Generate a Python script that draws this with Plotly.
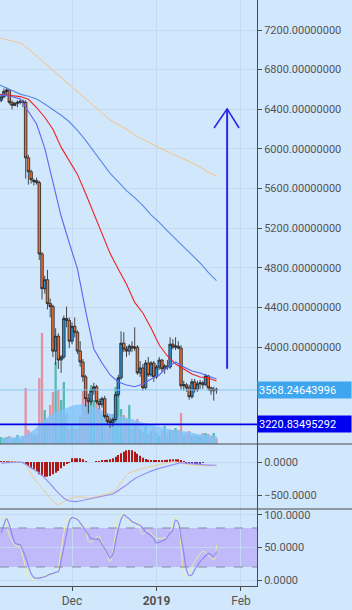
import plotly.graph_objects as go
import pandas as pd

# ---------------- data ----------------
dates = pd.date_range("2018-11-05", "2019-01-23", freq="D")

opens = [6490, 6525, 6580, 6595, 6470, 6440, 6460, 6470, 6480, 6470,
         5910, 5770, 5670, 5680, 5660, 4940, 4590, 4680, 4440, 4410,
         3960, 4110, 3870, 3900, 4290, 4270, 4060, 4210, 4150, 3960,
         3850, 3700, 3480, 3450, 3560, 3600, 3450, 3420, 3480, 3300,
         3250, 3240, 3270, 3520, 3690, 4040, 3980, 3960, 4010, 3990,
         4000, 3740, 3790, 3590, 3840, 3720, 3840, 3700, 3800, 3870,
         3780, 3810, 3800, 4030, 4000, 4010, 3990, 3610, 3620, 3590,
         3500, 3650, 3570, 3630, 3640, 3620, 3710, 3590, 3560, 3575]
highs = [6545, 6610, 6620, 6600, 6490, 6475, 6490, 6510, 6500, 6490,
         5940, 5790, 5700, 5710, 5680, 4960, 4720, 4780, 4490, 4430,
         4190, 4140, 3920, 4320, 4410, 4300, 4250, 4300, 4170, 4060,
         3880, 3720, 3530, 3580, 3640, 3620, 3480, 3500, 3510, 3320,
         3280, 3290, 3550, 3720, 4160, 4150, 4010, 4030, 4060, 4200,
         4020, 3860, 3830, 3870, 3900, 3860, 3860, 3820, 3900, 3880,
         3830, 3870, 4100, 4080, 4100, 4060, 4020, 3660, 3640, 3620,
         3680, 3680, 3660, 3670, 3660, 3730, 3720, 3600, 3600, 3590]
lows = [6470, 6510, 6540, 6450, 6400, 6430, 6420, 6450, 6420, 5700,
        5640, 5650, 5630, 5640, 4880, 4480, 4540, 4380, 4300, 3900,
        3820, 3780, 3740, 3880, 4200, 3990, 4030, 4100, 3930, 3800,
        3650, 3400, 3330, 3420, 3520, 3430, 3380, 3390, 3280, 3220,
        3185, 3200, 3250, 3500, 3670, 3950, 3900, 3920, 3950, 3960,
        3720, 3700, 3560, 3570, 3700, 3700, 3650, 3680, 3770, 3750,
        3730, 3770, 3780, 3980, 3970, 3980, 3570, 3560, 3550, 3470,
        3480, 3540, 3550, 3580, 3580, 3610, 3560, 3520, 3460, 3530]
closes = [6525, 6580, 6595, 6470, 6440, 6460, 6470, 6480, 6470, 5910,
          5770, 5690, 5680, 5660, 4940, 4590, 4680, 4440, 4410, 3960,
          4110, 3870, 3900, 4290, 4270, 4060, 4210, 4150, 3960, 3850,
          3700, 3480, 3450, 3560, 3600, 3450, 3420, 3480, 3300, 3250,
          3240, 3270, 3520, 3690, 4040, 3980, 3960, 4010, 3990, 4000,
          3740, 3790, 3590, 3840, 3720, 3840, 3700, 3800, 3870, 3780,
          3810, 3800, 4030, 4000, 4010, 3990, 3610, 3620, 3590, 3500,
          3650, 3570, 3630, 3640, 3620, 3710, 3590, 3560, 3575, 3568.25]

volumes = [7, 6, 7, 8, 6, 5, 9, 5, 7, 56,
           14, 11, 9, 10, 66, 111, 34, 25, 39, 52,
           82, 54, 44, 62, 30, 15, 20, 15, 15, 27,
           53, 67, 44, 59, 44, 47, 36, 29, 26, 30,
           30, 30, 57, 51, 35, 29, 25, 39, 15, 20,
           25, 15, 12, 18, 10, 13, 16, 11, 8, 13,
           18, 11, 14, 14, 16, 14, 31, 8, 11, 13,
           8, 10, 8, 8, 11, 11, 10, 8, 11, 6]

vol_ma_dates = ["2018-11-05", "2018-11-08", "2018-11-11", "2018-11-14", "2018-11-17",
                "2018-11-20", "2018-11-23", "2018-11-26", "2018-11-29", "2018-12-02",
                "2018-12-05", "2018-12-08", "2018-12-11", "2018-12-14", "2018-12-17",
                "2018-12-20", "2018-12-23", "2018-12-26", "2018-12-29", "2019-01-01",
                "2019-01-04", "2019-01-07", "2019-01-10", "2019-01-13", "2019-01-16",
                "2019-01-19", "2019-01-23"]
vol_ma = [6, 6.5, 7, 9, 14, 22, 29, 33, 36, 39, 40, 38, 35, 31, 29, 27, 25, 22,
          20, 18, 16, 14, 13, 12, 10, 9, 8]

ma_dates = ["2018-11-04", "2018-11-08", "2018-11-12", "2018-11-15", "2018-11-18",
            "2018-11-21", "2018-11-24", "2018-11-27", "2018-11-30", "2018-12-03",
            "2018-12-06", "2018-12-09", "2018-12-12", "2018-12-15", "2018-12-18",
            "2018-12-21", "2018-12-24", "2018-12-27", "2018-12-30", "2019-01-02",
            "2019-01-05", "2019-01-08", "2019-01-11", "2019-01-14", "2019-01-17",
            "2019-01-20", "2019-01-23"]
ma_fast = [6544, 6534, 6504, 6373, 6252, 6009, 5666, 5323, 5051, 4789, 4365, 3981,
           3840, 3719, 3648, 3618, 3600, 3628, 3679, 3719, 3800, 3850, 3800, 3759,
           3739, 3709, 3679]
ma_red = [6554, 6542, 6528, 6501, 6418, 6320, 6199, 6018, 5875, 5743, 5551, 5348,
          5144, 4944, 4785, 4634, 4451, 4345, 4193, 4022, 3911, 3830, 3779, 3729,
          3699, 3689, 3658]
ma_slow = [6652, 6603, 6553, 6531, 6503, 6454, 6401, 6340, 6274, 6188, 6087, 5978,
           5859, 5754, 5668, 5580, 5508, 5429, 5335, 5260, 5173, 5093, 5013, 4937,
           4849, 4755, 4670]
ma_tan = [7123, 7096, 7068, 7010, 6939, 6865, 6790, 6718, 6645, 6575, 6506, 6433,
          6363, 6291, 6244, 6198, 6139, 6096, 6051, 6011, 5975, 5939, 5899, 5858,
          5817, 5765, 5725]

macd_line = [-8, -5, 0, 2, 4, 5, 5, 3, -10, -35, -110, -190, -250, -300, -350, -390,
             -440, -490, -545, -590, -625, -650, -630, -600, -575, -555, -538, -533,
             -528, -525, -535, -545, -550, -545, -535, -525, -515, -505, -495, -485,
             -474, -460, -424, -370, -300, -250, -200, -165, -148, -135, -122, -108,
             -96, -88, -78, -68, -57, -45, -40, -30, -20, -10, 0, 5, 3, -3, -12, -22,
             -32, -40, -46, -50, -52, -53, -54, -55, -55, -56, -56, -56]
signal_line = [-18, -15, -12, -8, -5, -3, -1, 0, -10, -35, -60, -85, -110, -140, -165,
               -200, -240, -280, -323, -375, -425, -475, -510, -545, -575, -590, -598,
               -601, -598, -590, -580, -570, -562, -556, -548, -540, -535, -525, -515,
               -505, -495, -485, -460, -435, -410, -385, -350, -315, -280, -255, -232,
               -210, -190, -172, -155, -138, -122, -108, -96, -86, -75, -65, -55, -45,
               -30, -18, -10, -15, -20, -25, -30, -34, -37, -40, -43, -45, -46, -47,
               -48, -49]
macd_hist = [5, 15, 15, 15, 15, 10, 0, 0, -5, -35, -61, -96, -111, -146, -187, -212,
             -222, -222, -212, -187, -162, -136, -96, -61, -25, -10, 56, 56, 56, 56,
             40, 15, 0, 0, 0, 15, 15, 25, 30, 35, 40, 56, 81, 106, 131, 157, 177, 182,
             177, 157, 126, 96, 66, 45, 35, 30, 30, 30, 30, 30, 30, 35, 40, 40, 40, 40,
             25, 5, -25, -35, -35, -35, -35, -25, -10, 0, 0, 0, 0, 0]

stoch_k = [95, 97, 85, 68, 60, 54, 52, 50, 35, 20, 3, 1, 0, 2, 3, 5, 6, 7, 8, 9,
           10, 20, 45, 72, 92, 96, 96, 95, 95, 90, 84, 78, 60, 58, 63, 66, 67, 58, 47, 38,
           28, 45, 72, 95, 100, 100, 95, 90, 90, 90, 88, 78, 70, 73, 76, 72, 67, 64, 64, 64,
           65, 66, 72, 88, 97, 88, 50, 10, 3, 10, 20, 28, 34, 40, 44, 42, 38, 34, 31, 54]
stoch_d = [72, 85, 94, 85, 70, 58, 55, 54, 45, 35, 22, 10, 4, 3, 3, 4, 5, 7, 9, 10,
           12, 13, 30, 50, 70, 90, 96, 95, 93, 88, 82, 76, 70, 64, 63, 63, 62, 55, 48, 40,
           34, 40, 60, 78, 93, 100, 97, 94, 90, 88, 86, 84, 80, 74, 71, 68, 64, 57, 58, 60,
           62, 66, 72, 77, 92, 88, 65, 42, 16, 7, 8, 16, 22, 28, 33, 37, 41, 39, 36, 44]

price_ticks = [4000, 4400, 4800, 5200, 5600, 6000, 6400, 6800, 7200]
macd_ticks = [-500, 0]
stoch_ticks = [0, 50, 100]
x_tick_dates = ["2018-12-01", "2019-01-01", "2019-02-01"]
x_tick_text = ["Dec", "<b>2019</b>", "Feb"]

last_price = 3568.24643996
support_price = 3220.83495292

arrow_shaft_dates = ["2019-01-26 22:00", "2019-01-26 22:00"]
arrow_shaft_prices = [3783, 6404]
arrow_head_dates = ["2019-01-22 03:00", "2019-01-26 22:00", "2019-01-31 07:00"]
arrow_head_prices = [6211, 6404, 6211]

# ---------------- styling ----------------
BG = "#d1e7fc"
GRID = "#c3daf2"
AXC = "#4a4a4a"
TXT = "#555555"
FONT = "Roboto"

dom1 = [1 - 444 / 586, 1]
dom2 = [1 - 509 / 586, 1 - 444 / 586]
dom3 = [0, 1 - 509 / 586]

fig = go.Figure()

# volume MA area + volume bars (base axis y)
fig.add_trace(go.Scatter(x=vol_ma_dates, y=vol_ma, mode="lines", line=dict(width=0),
                         fill="tozeroy", fillcolor="rgba(125,195,250,0.8)",
                         xaxis="x", yaxis="y", hoverinfo="skip"))
vol_colors = ["rgba(40,168,152,0.72)" if c >= o else "rgba(232,108,122,0.68)"
              for o, c in zip(opens, closes)]
fig.add_trace(go.Bar(x=dates, y=volumes, marker=dict(color=vol_colors, line=dict(width=0)),
                     width=0.85 * 86400000, xaxis="x", yaxis="y"))

# moving averages (price axis y2)
for vals, col in [(ma_tan, "#f2c899"), (ma_slow, "#5b88ea"), (ma_red, "#ee2222"),
                  (ma_fast, "#5a66f4")]:
    fig.add_trace(go.Scatter(x=ma_dates, y=vals, mode="lines",
                             line=dict(color=col, width=1.1), xaxis="x", yaxis="y2"))

fig.add_trace(go.Candlestick(
    x=dates, open=opens, high=highs, low=lows, close=closes,
    increasing=dict(fillcolor="#2a8fd8", line=dict(color="#202020", width=0.8)),
    decreasing=dict(fillcolor="#e8703a", line=dict(color="#202020", width=0.8)),
    whiskerwidth=0, xaxis="x", yaxis="y2"))

# arrow
fig.add_trace(go.Scatter(x=arrow_shaft_dates, y=arrow_shaft_prices, mode="lines",
                         line=dict(color="#2828e8", width=2), xaxis="x", yaxis="y2"))
fig.add_trace(go.Scatter(x=arrow_head_dates, y=arrow_head_prices, mode="lines",
                         line=dict(color="#2828e8", width=1.6), xaxis="x", yaxis="y2"))

# MACD
hist_colors = ["#5a3aa0" if (i >= 67 and h < 0) else "#b01818"
               for i, h in enumerate(macd_hist)]
fig.add_trace(go.Bar(x=dates, y=macd_hist, marker=dict(color=hist_colors, line=dict(width=0)),
                     width=0.4 * 86400000, xaxis="x", yaxis="y3"))
fig.add_trace(go.Scatter(x=dates, y=macd_line, mode="lines",
                         line=dict(color="#f0c890", width=1), xaxis="x", yaxis="y3"))
fig.add_trace(go.Scatter(x=dates, y=signal_line, mode="lines",
                         line=dict(color="#9393f2", width=1.2), xaxis="x", yaxis="y3"))

# Stochastic
fig.add_trace(go.Scatter(x=dates, y=stoch_k, mode="lines",
                         line=dict(color="#f2eca0", width=1, shape="spline"), xaxis="x", yaxis="y4"))
fig.add_trace(go.Scatter(x=dates, y=stoch_d, mode="lines",
                         line=dict(color="#8a8aee", width=1.2, shape="spline"), xaxis="x", yaxis="y4"))

shapes = [
    dict(type="rect", xref="paper", yref="y4", x0=0, x1=1, y0=20, y1=80,
         fillcolor="rgba(185,170,250,0.75)", line=dict(width=0), layer="below"),
    dict(type="line", xref="paper", yref="y4", x0=0, x1=1, y0=80, y1=80,
         line=dict(color="#8a8aa0", width=1, dash="dash")),
    dict(type="line", xref="paper", yref="y4", x0=0, x1=1, y0=20, y1=20,
         line=dict(color="#8a8aa0", width=1, dash="dash")),
    dict(type="line", xref="paper", yref="y2", x0=0, x1=1, y0=last_price, y1=last_price,
         line=dict(color="#8cc6f2", width=1)),
    dict(type="line", xref="paper", yref="y2", x0=0, x1=1, y0=support_price, y1=support_price,
         line=dict(color="#0000dd", width=1.6)),
    dict(type="line", xref="paper", yref="paper", x0=0, x1=352 / 257, y0=dom1[0], y1=dom1[0],
         line=dict(color=AXC, width=1)),
    dict(type="line", xref="paper", yref="paper", x0=0, x1=352 / 257, y0=dom2[0], y1=dom2[0],
         line=dict(color=AXC, width=1)),
]

annotations = [
    dict(xref="paper", yref="y2", x=1, y=last_price, xanchor="left", yanchor="middle",
         text=f"{last_price:.8f}", showarrow=False, bgcolor="#3ea6ef",
         font=dict(color="white", size=11, family=FONT), width=91, height=14,
         align="left", borderpad=1),
    dict(xref="paper", yref="y2", x=1, y=support_price, xanchor="left", yanchor="middle",
         text=f"{support_price:.8f}", showarrow=False, bgcolor="#0000f0",
         font=dict(color="white", size=11, family=FONT), width=91, height=14,
         align="left", borderpad=1),
]

yax_common = dict(side="right", showline=True, linecolor=AXC, linewidth=1, ticks="outside",
                  ticklen=4, tickcolor=AXC, showgrid=True, gridcolor=GRID, gridwidth=1,
                  zeroline=False, tickfont=dict(color=TXT, size=11, family=FONT),
                  automargin=False, fixedrange=True)

fig.update_layout(
    width=352, height=610, template="none",
    paper_bgcolor=BG, plot_bgcolor=BG,
    margin=dict(l=0, r=95, t=0, b=24),
    showlegend=False, bargap=0.1, boxgap=0.08, boxgroupgap=0,
    font=dict(family=FONT, color=TXT),
    xaxis=dict(domain=[0, 1], anchor="y4", type="date",
               range=["2018-11-04 14:00", "2019-02-06 21:00"],
               tickvals=x_tick_dates, ticktext=x_tick_text,
               ticks="outside", ticklen=4, tickcolor=AXC,
               showline=True, linecolor=AXC, linewidth=1,
               showgrid=True, gridcolor=GRID, zeroline=False,
               tickfont=dict(color=TXT, size=12, family=FONT),
               rangeslider=dict(visible=False), automargin=False),
    yaxis=dict(domain=dom1, range=[0, 444], visible=False, fixedrange=True),
    yaxis2=dict(overlaying="y", anchor="x", range=[3022.7, 7502.7],
                tickvals=price_ticks, tickformat=".8f", **yax_common),
    yaxis3=dict(domain=dom2, anchor="x", range=[-712, 272.7],
                tickvals=macd_ticks, tickformat=".4f", **yax_common),
    yaxis4=dict(domain=dom3, anchor="x", range=[-9.2, 109.2],
                tickvals=stoch_ticks, tickformat=".4f", **yax_common),
    shapes=shapes, annotations=annotations,
)

fig.write_html("out.html")
